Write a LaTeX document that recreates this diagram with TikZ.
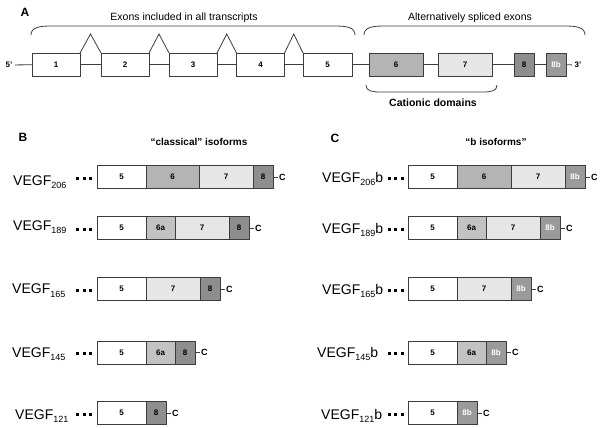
\documentclass[tikz,border=0pt]{standalone}
\usepackage{fontspec}
\setmainfont{Liberation Sans}
\usetikzlibrary{positioning,calc}
\definecolor{exline}{HTML}{3C3C3C}
\definecolor{exsix}{HTML}{B4B4B4}
\definecolor{exsixa}{HTML}{C2C2C2}
\definecolor{exseven}{HTML}{E6E6E6}
\definecolor{exeight}{HTML}{8E8E8E}
\definecolor{exeightb}{HTML}{9A9A9A}
\newcommand{\vegf}[1]{VEGF\raisebox{-3.5pt}{\fontsize{9}{9}\selectfont #1}}
\newcommand{\tridots}{\rule{3pt}{3pt}\hspace{3.5pt}\rule{3pt}{3pt}\hspace{3.5pt}\rule{3pt}{3pt}}
\begin{document}
\begin{tikzpicture}[x=1pt,y=-1pt,
  exon/.style={draw=exline, line width=0.8pt, fill=white, minimum height=23pt,
    inner sep=0pt, outer sep=0pt, font=\fontsize{8}{8}\selectfont\bfseries},
  five/.style={exon, minimum width=49pt},
  six/.style={exon, fill=exsix, minimum width=53pt},
  sixa/.style={exon, fill=exsixa, minimum width=29pt},
  seven/.style={exon, fill=exseven, minimum width=54pt},
  eight/.style={exon, fill=exeight, minimum width=20pt},
  eightb/.style={exon, fill=exeightb, minimum width=20pt, text=white},
  panel/.style={font=\fontsize{12}{12}\selectfont\bfseries},
  heading/.style={font=\fontsize{10.5}{12}\selectfont},
  bheading/.style={font=\fontsize{10}{12}\selectfont\bfseries},
  prime/.style={font=\fontsize{8}{8}\selectfont\bfseries, inner sep=2.5pt},
  vlabel/.style={anchor=base west, inner sep=0pt, font=\fontsize{14}{14}\selectfont},
  dots/.style={inner sep=0pt},
  cterm/.style={inner sep=1pt, font=\fontsize{9}{9}\selectfont\bfseries},
  link/.style={draw=exline, line width=0.8pt}]
\useasboundingbox (0,0) rectangle (600,428);

% panel A: gene
\node[panel] (pa) at (25,12) {A};
\node[heading] (allex) at (184,18) {Exons included in all transcripts};
\node[heading] (altex) at (470,18) {Alternatively spliced exons};
\node[prime] (p5) at (9,65) {5'};
\node[five, minimum width=48pt] (e1) at (56,64.5) {1};
\node[five, minimum width=48pt] (e2) at (125,64.5) {2};
\node[five, minimum width=48pt] (e3) at (193,64.5) {3};
\node[five, minimum width=48pt] (e4) at (260.5,64.5) {4};
\node[five] (e5) at (327.5,64.5) {5};
\node[six, minimum width=54pt] (e6) at (396,64.5) {6};
\node[seven] (e7) at (465,64.5) {7};
\node[eight] (e8) at (524,64.5) {8};
\node[eightb] (e8b) at (556,64.5) {8b};
\node[prime] (p3) at (578,65) {3'};
\draw[link] (p5) -- (e1) -- (e2) -- (e3) -- (e4) -- (e5) -- (e6) -- (e7) -- (e8) -- (e8b) -- (p3);
\foreach \a/\b in {e1/e2,e2/e3,e3/e4,e4/e5}
  \draw[link] (\a.north east) -- ($(\a.north east)!.5!(\b.north west)+(0,-19)$) -- (\b.north west);
\draw[link] (31,35) .. controls (31,27) and (40,26) .. (52,26) -- (334,26)
  .. controls (346,26) and (355,27) .. (355,35);
\draw[link] (364,35) .. controls (364,27) and (373,26) .. (385,26) -- (564,26)
  .. controls (576,26) and (585,27) .. (585,35);
\draw[link] (366,85) .. controls (366,91) and (372,92) .. (380,92) -- (483,92)
  .. controls (491,92) and (497,91) .. (497,85);
\node[bheading, font=\fontsize{10.5}{12}\selectfont\bfseries] (cat) at (433,103) {Cationic domains};

% panel B: classical isoforms
\node[panel] (pb) at (23,137) {B};
\node[bheading] (clas) at (199,142) {``classical'' isoforms};

\node[vlabel] (b206l) at (13,185) {\vegf{206}};
\node[dots] (b206d) at (84,178) {\tridots};
\node[five] (b206x5) at (121.5,177) {5};
\node[six, right=0pt of b206x5] (b206x6) {6};
\node[seven, right=0pt of b206x6] (b206x7) {7};
\node[eight, right=0pt of b206x7] (b206x8) {8};
\node[cterm, right=5pt of b206x8] (b206c) {C};
\draw[link] (b206x8) -- (b206c);

\node[vlabel] (b189l) at (13,230) {\vegf{189}};
\node[dots] (b189d) at (84,229) {\tridots};
\node[five] (b189x5) at (121.5,228) {5};
\node[sixa, right=0pt of b189x5] (b189x6) {6a};
\node[seven, right=0pt of b189x6] (b189x7) {7};
\node[eight, right=0pt of b189x7] (b189x8) {8};
\node[cterm, right=5pt of b189x8] (b189c) {C};
\draw[link] (b189x8) -- (b189c);

\node[vlabel] (b165l) at (12,293.5) {\vegf{165}};
\node[dots] (b165d) at (84,290) {\tridots};
\node[five] (b165x5) at (121.5,289) {5};
\node[seven, right=0pt of b165x5] (b165x7) {7};
\node[eight, right=0pt of b165x7] (b165x8) {8};
\node[cterm, right=5pt of b165x8] (b165c) {C};
\draw[link] (b165x8) -- (b165c);

\node[vlabel] (b145l) at (12,357) {\vegf{145}};
\node[dots] (b145d) at (84,353) {\tridots};
\node[five] (b145x5) at (121.5,352.5) {5};
\node[sixa, right=0pt of b145x5] (b145x6) {6a};
\node[eight, right=0pt of b145x6] (b145x8) {8};
\node[cterm, right=5pt of b145x8] (b145c) {C};
\draw[link] (b145x8) -- (b145c);

\node[vlabel] (b121l) at (15,419) {\vegf{121}};
\node[dots] (b121d) at (84,414) {\tridots};
\node[five] (b121x5) at (121.5,413) {5};
\node[eight, right=0pt of b121x5] (b121x8) {8};
\node[cterm, right=5pt of b121x8] (b121c) {C};
\draw[link] (b121x8) -- (b121c);

% panel C: b isoforms
\node[panel] (pc) at (335,138) {C};
\node[bheading] (biso) at (496,142) {``b isoforms''};

\node[vlabel] (c206l) at (322,182) {\vegf{206}b};
\node[dots] (c206d) at (395.5,178) {\tridots};
\node[five] (c206x5) at (432.5,177) {5};
\node[six, minimum width=54pt, right=0pt of c206x5] (c206x6) {6};
\node[seven, right=0pt of c206x6] (c206x7) {7};
\node[eightb, right=0pt of c206x7] (c206x8) {8b};
\node[cterm, right=5pt of c206x8] (c206c) {C};
\draw[link] (c206x8) -- (c206c);

\node[vlabel] (c189l) at (322,233) {\vegf{189}b};
\node[dots] (c189d) at (395.5,229) {\tridots};
\node[five] (c189x5) at (432.5,228) {5};
\node[sixa, right=0pt of c189x5] (c189x6) {6a};
\node[seven, right=0pt of c189x6] (c189x7) {7};
\node[eightb, right=0pt of c189x7] (c189x8) {8b};
\node[cterm, right=5pt of c189x8] (c189c) {C};
\draw[link] (c189x8) -- (c189c);

\node[vlabel] (c165l) at (322,294) {\vegf{165}b};
\node[dots] (c165d) at (395.5,290) {\tridots};
\node[five] (c165x5) at (432.5,289) {5};
\node[seven, right=0pt of c165x5] (c165x7) {7};
\node[eightb, right=0pt of c165x7] (c165x8) {8b};
\node[cterm, right=5pt of c165x8] (c165c) {C};
\draw[link] (c165x8) -- (c165c);

\node[vlabel] (c145l) at (317,357) {\vegf{145}b};
\node[dots] (c145d) at (395.5,353) {\tridots};
\node[five] (c145x5) at (432.5,352.5) {5};
\node[sixa, right=0pt of c145x5] (c145x6) {6a};
\node[eightb, right=0pt of c145x6] (c145x8) {8b};
\node[cterm, right=5pt of c145x8] (c145c) {C};
\draw[link] (c145x8) -- (c145c);

\node[vlabel] (c121l) at (321,419) {\vegf{121}b};
\node[dots] (c121d) at (395.5,414) {\tridots};
\node[five] (c121x5) at (432.5,413) {5};
\node[eightb, right=0pt of c121x5] (c121x8) {8b};
\node[cterm, right=5pt of c121x8] (c121c) {C};
\draw[link] (c121x8) -- (c121c);
\end{tikzpicture}
\end{document}
